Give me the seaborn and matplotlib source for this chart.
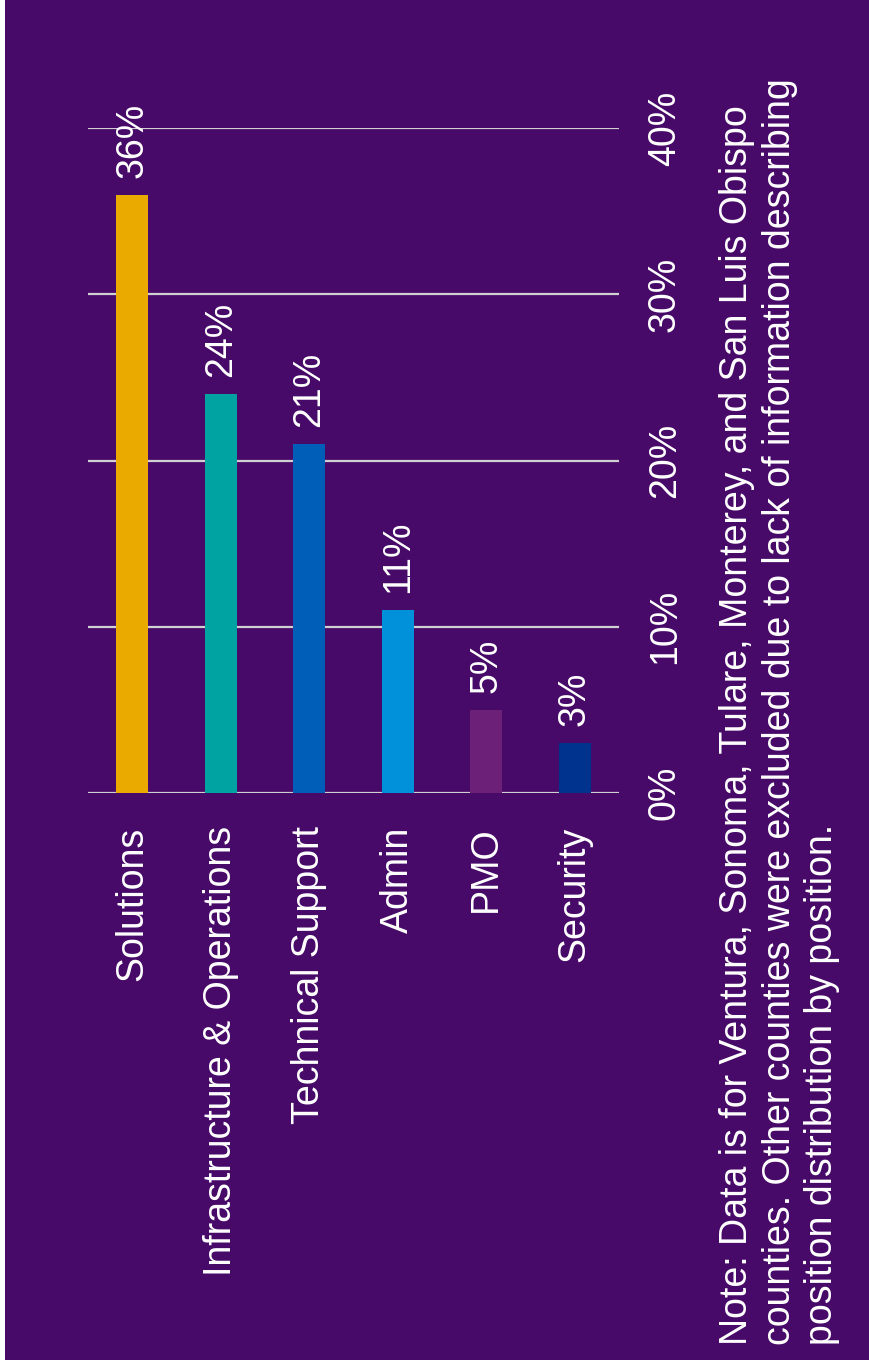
import seaborn as sns
from matplotlib import pyplot as plt
from matplotlib.patches import Rectangle
import pandas as pd

categories = ["Solutions", "Infrastructure & Operations", "Technical Support",
              "Admin", "PMO", "Security"]
shares = [36, 24, 21, 11, 5, 3]
bar_colors = ["#EAAA00", "#00A3A1", "#005EB8", "#0091DA", "#6D2077", "#00338D"]
y_ticks = [0, 10, 20, 30, 40]
note = ("Note: Data is for Ventura, Sonoma, Tulare, Monterey, and San Luis Obispo\n"
        "counties. Other counties were excluded due to lack of information describing\n"
        "position distribution by position.")

BG = "#470A68"
W, H = 869, 1366
FS = 27

sns.set_theme(style="white")
plt.rcParams["font.family"] = ["Liberation Sans", "DejaVu Sans"]

df = pd.DataFrame({"category": categories, "share": shares})

fig = plt.figure(figsize=(W / 100, H / 100), dpi=100, facecolor="white")
fig.patches.append(Rectangle((5 / W, 6 / H), 1, 1, transform=fig.transFigure,
                             facecolor=BG, edgecolor="none", zorder=-10))

ax = fig.add_axes([88 / W, 1 - 793 / H, (619 - 88) / W, (793 - 128) / H])
ax.set_facecolor("none")

sns.barplot(data=df, x="category", y="share", hue="category",
            palette=bar_colors, legend=False, width=0.36, saturation=1,
            edgecolor="none", linewidth=0, ax=ax, zorder=3)

ax.set_ylim(0, 40)
ax.set_xlim(-0.5, len(categories) - 0.5)
ax.set_yticks(y_ticks)
ax.set_yticklabels([f"{t}%" for t in y_ticks])
ax.yaxis.tick_right()
ax.grid(axis="y", color="#d0d0d0", linewidth=1.6, zorder=1)
ax.grid(axis="x", visible=False)
for s in ax.spines.values():
    s.set_visible(False)
ax.set_xlabel("")
ax.set_ylabel("")

ax.tick_params(axis="x", length=0, pad=24, labelsize=FS, labelcolor="white",
               labelrotation=90)
ax.tick_params(axis="y", length=0, pad=20, labelsize=FS, labelcolor="white",
               labelrotation=90)
for lab in ax.get_yticklabels():
    lab.set_verticalalignment("center")
    lab.set_horizontalalignment("left")

for i, v in enumerate(shares):
    ax.annotate(f"{v}%", (i, v), xytext=(0, 12), textcoords="offset points",
                rotation=90, ha="center", va="bottom", color="white",
                fontsize=FS)

fig.text(719 / W, 1 - 1345 / H, note, rotation=90, ha="left", va="bottom",
         multialignment="left", color="white", fontsize=FS, linespacing=1.24)

fig.savefig("out.png", dpi=100, facecolor=fig.get_facecolor())
